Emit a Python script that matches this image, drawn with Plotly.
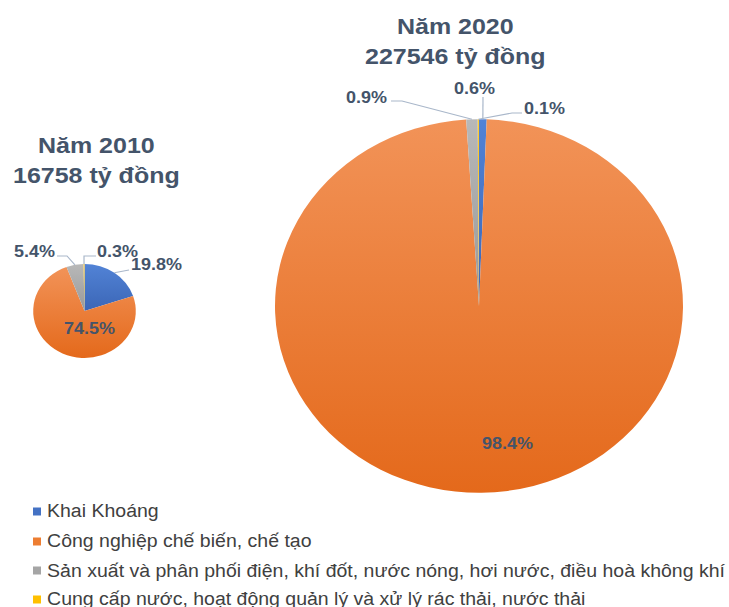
import json
import math

import plotly.graph_objects as go

# ---- data -------------------------------------------------------------
categories = [
    "Khai Khoáng",
    "Công nghiệp chế biến, chế tạo",
    "Sản xuất và phân phối điện, khí đốt, nước nóng, hơi nước, điều hoà không khí",
    "Cung cấp nước, hoạt động quản lý và xử lý rác thải, nước thải",
]
share_2010 = [19.8, 74.5, 5.4, 0.3]
share_2020 = [0.6, 98.4, 0.9, 0.1]
years = ["Năm 2010", "Năm 2020"]
totals = [16758, 227546]
colors = ["#4472C4", "#ED7D31", "#A5A5A5", "#FFC000"]

# ---- page geometry ----------------------------------------------------
W = 729            # page width
SHOW_H = 607       # visible height after the vertical squash
H = 663            # drawing height before the squash
SQUASH = SHOW_H / H

FONT = "Liberation Sans, Arial, sans-serif"
LABEL_COLOR = "#44546A"
LEGEND_COLOR = "#404040"
LEADER_COLOR = "#A9B7CA"


def px(x):
    return x / W


def py(y):
    # vertical page pixel (visible frame) -> paper fraction
    return 1 - y / SHOW_H


# each pie: centre (page px), radius (px), title spot, and a label spot per slice
pies = [
    dict(
        shares=share_2010, year=years[0], total=totals[0],
        cx=84.5, cy=311, r=51.3, title_xy=(96, 160),
        labels=[
            ((156, 265), [(129, 270)]),
            ((89, 329), None),
            ((34, 252), [(67, 256), (57, 256)]),
            ((117, 252), [(84, 256), (96, 256)]),
        ],
    ),
    dict(
        shares=share_2020, year=years[1], total=totals[1],
        cx=479, cy=306, r=204, title_xy=(455, 41),
        labels=[
            ((474, 89), [(483, 97)]),
            ((507, 443), None),
            ((366, 97), [(402, 101), (391, 101)]),
            ((544, 108), [(512, 113), (522, 113)]),
        ],
    ),
]

fig = go.Figure()
annotations = []
shapes = []

for pie in pies:
    cxp, cyp = px(pie["cx"]), py(pie["cy"])
    rw, rh = pie["r"] / W, pie["r"] / H
    fig.add_trace(go.Pie(
        labels=categories,
        values=pie["shares"],
        marker=dict(colors=colors, line=dict(width=0)),
        sort=False,
        direction="clockwise",
        rotation=0,
        textinfo="none",
        showlegend=False,
        domain=dict(x=[cxp - rw, cxp + rw], y=[cyp - rh, cyp + rh]),
        hovertemplate="%{label}<br>%{value:.1f}%<extra></extra>",
    ))

    # title above the pie
    tx, ty = pie["title_xy"]
    annotations.append(dict(
        x=px(tx), y=py(ty), xref="paper", yref="paper",
        xanchor="center", yanchor="middle", showarrow=False, align="center",
        text=f"<b>{pie['year']}<br>{pie['total']} tỷ đồng</b>",
        font=dict(family=FONT, size=25, color=LABEL_COLOR),
    ))

    # percentage labels and leader lines
    total_share = sum(pie["shares"])
    cum = 0.0
    for share, ((lx, ly), bends) in zip(pie["shares"], pie["labels"]):
        mid = (cum + share / 2) / total_share * 2 * math.pi
        cum += share
        annotations.append(dict(
            x=px(lx), y=py(ly), xref="paper", yref="paper",
            xanchor="center", yanchor="middle", showarrow=False,
            text=f"<b>{share:.1f}%</b>",
            font=dict(family=FONT, size=18, color=LABEL_COLOR),
        ))
        if bends:
            rim_x = cxp + rw * math.sin(mid)
            rim_y = cyp + rh * math.cos(mid)
            pts = [(rim_x, rim_y)] + [(px(bx), py(by)) for bx, by in bends]
            path = "M" + " L".join(f"{a:.5f},{b:.5f}" for a, b in pts)
            shapes.append(dict(
                type="path", path=path, xref="paper", yref="paper",
                line=dict(color=LEADER_COLOR, width=1.2),
            ))

# legend at the bottom: coloured square + category name
legend_rows = [511, 541, 570, 599]
for name, color, row in zip(categories, colors, legend_rows):
    shapes.append(dict(
        type="rect", xref="paper", yref="paper",
        x0=px(33), x1=px(41), y0=py(row + 4.5), y1=py(row - 3.5),
        fillcolor=color, line=dict(width=0),
    ))
    annotations.append(dict(
        x=px(45), y=py(row), xref="paper", yref="paper",
        xanchor="left", yanchor="middle", showarrow=False,
        text=name,
        font=dict(family=FONT, size=19.5, color=LEGEND_COLOR),
    ))

fig.update_layout(
    width=W,
    height=H,
    margin=dict(l=0, r=0, t=0, b=0),
    paper_bgcolor="white",
    plot_bgcolor="white",
    annotations=annotations,
    shapes=shapes,
)

# soft top-to-bottom shading for each slice colour
shading = {
    "rgb(68, 114, 196)": ["#5283D6", "#3B66B6"],
    "rgb(237, 125, 49)": ["#F29358", "#E4691B"],
    "rgb(165, 165, 165)": ["#B8B8B8", "#999999"],
    "rgb(255, 192, 0)": ["#FFCC33", "#F2B600"],
}

post_script = """
var gd = document.getElementById('{plot_id}');
document.documentElement.style.overflow = 'hidden';
document.body.style.overflow = 'hidden';
document.body.style.margin = '0';
gd.style.transformOrigin = '0 0';
gd.style.transform = 'scaleY(%(squash).6f)';
var shading = %(shading)s;
var layer = gd.querySelector('.pielayer');
if (layer) {
  var svg = layer.ownerSVGElement;
  var ns = 'http://www.w3.org/2000/svg';
  var defs = document.createElementNS(ns, 'defs');
  svg.insertBefore(defs, svg.firstChild);
  var ids = {};
  Object.keys(shading).forEach(function (key, i) {
    var g = document.createElementNS(ns, 'linearGradient');
    var id = 'slice-shade-' + i;
    g.setAttribute('id', id);
    g.setAttribute('x1', '0'); g.setAttribute('y1', '0');
    g.setAttribute('x2', '0'); g.setAttribute('y2', '1');
    [[0, shading[key][0]], [1, shading[key][1]]].forEach(function (s) {
      var stop = document.createElementNS(ns, 'stop');
      stop.setAttribute('offset', s[0]);
      stop.setAttribute('stop-color', s[1]);
      g.appendChild(stop);
    });
    defs.appendChild(g);
    ids[key] = id;
  });
  layer.querySelectorAll('path.surface').forEach(function (p) {
    var f = p.style.fill;
    if (ids[f]) { p.style.fill = 'url(#' + ids[f] + ')'; }
  });
}
""" % {"squash": SQUASH, "shading": json.dumps(shading)}

fig.write_html("out.html", post_script=post_script)
